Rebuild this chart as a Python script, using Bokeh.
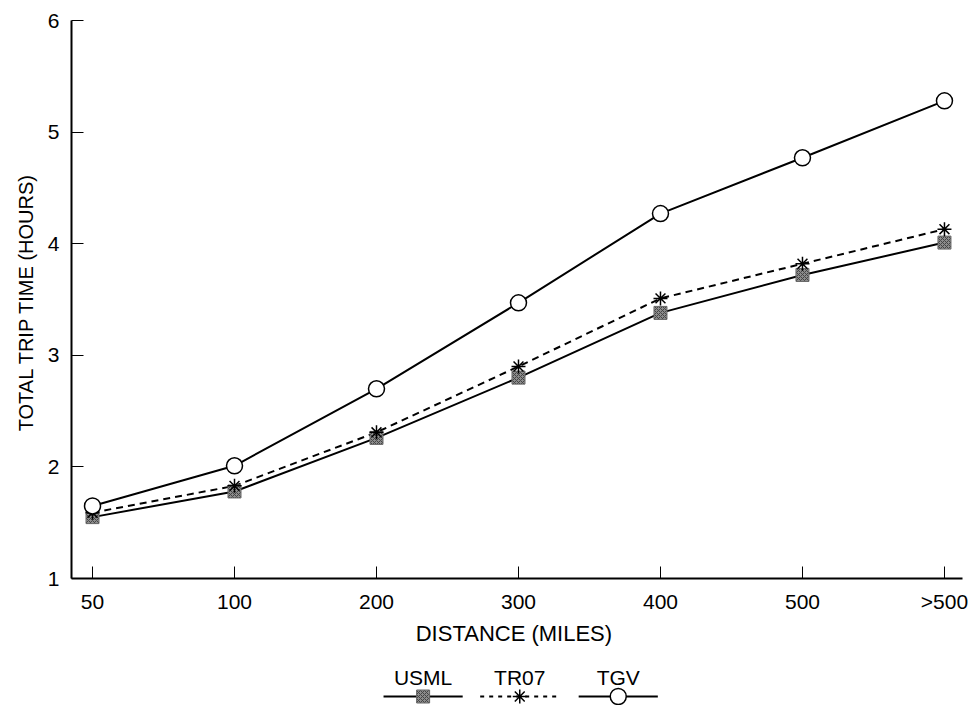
from bokeh.plotting import figure
from bokeh.models import Range1d, FixedTicker, ColumnDataSource
from bokeh.layouts import column
from bokeh.embed import file_html
from bokeh.resources import INLINE
from bokeh.core.properties import value

categories = ["50", "100", "200", "300", "400", "500", ">500"]
usml = [1.55, 1.78, 2.26, 2.80, 3.38, 3.72, 4.01]
tr07 = [1.59, 1.83, 2.31, 2.90, 3.51, 3.82, 4.13]
tgv = [1.65, 2.01, 2.70, 3.47, 4.27, 4.77, 5.28]
y_ticks = [1, 2, 3, 4, 5, 6]
series_names = ["USML", "TR07", "TGV"]

FONT = "Liberation Sans"
xs = list(range(len(categories)))

p = figure(width=968, height=650, output_backend="svg", toolbar_location=None,
           x_range=Range1d(-0.148, 6.127), y_range=Range1d(1, 6),
           min_border_left=71, min_border_right=6, min_border_top=20, min_border_bottom=72)
p.outline_line_color = None
p.xgrid.visible = False
p.ygrid.visible = False
p.background_fill_color = "white"

p.xaxis.ticker = FixedTicker(ticks=xs)
p.xaxis.major_label_overrides = {i: c for i, c in enumerate(categories)}
p.yaxis.ticker = FixedTicker(ticks=y_ticks)

for ax in (p.xaxis[0], p.yaxis[0]):
    ax.axis_line_color = "black"
    ax.axis_line_width = 2
    ax.major_tick_in = 12
    ax.major_tick_out = 0
    ax.major_tick_line_color = "black"
    ax.major_tick_line_width = 1
    ax.minor_tick_line_color = None
    ax.major_label_text_font = FONT
    ax.major_label_text_font_size = "21px"
    ax.major_label_text_color = "black"
    ax.axis_label_text_font = FONT
    ax.axis_label_text_font_style = "normal"
    ax.axis_label_text_color = "black"

p.xaxis.axis_label = "DISTANCE  (MILES)"
p.yaxis.axis_label = "TOTAL TRIP TIME  (HOURS)"
p.xaxis.axis_label_text_font_size = "22px"
p.yaxis.axis_label_text_font_size = "20px"
p.xaxis.major_label_standoff = 11
p.xaxis.axis_label_standoff = 5
p.yaxis.major_label_standoff = 12
p.yaxis.axis_label_standoff = 8

src = ColumnDataSource(dict(x=xs, usml=usml, tr07=tr07, tgv=tgv))

p.line("x", "tgv", source=src, line_color="black", line_width=2)
p.line("x", "tr07", source=src, line_color="black", line_width=2, line_dash="7 5")
p.line("x", "usml", source=src, line_color="black", line_width=2)

p.scatter("x", "usml", source=src, marker="square", size=13, fill_color="#8c8c8c",
          line_color="#666666", line_width=1, hatch_pattern="x", hatch_color="#444444",
          hatch_scale=4, hatch_weight=1)
p.scatter("x", "tr07", source=src, marker="asterisk", size=14, line_color="black", line_width=1.5)
p.scatter("x", "tgv", source=src, marker="circle", size=16, fill_color="white",
          line_color="black", line_width=1.5)

# legend panel
lg = figure(width=968, height=55, output_backend="svg", toolbar_location=None,
            x_range=Range1d(0, 968), y_range=Range1d(55, 0),
            min_border=0)
lg.axis.visible = False
lg.grid.visible = False
lg.outline_line_color = None

leg_x = [382, 487, 594]
lab_y = [27, 27, 27]
line_y = 46
half = 43
lg.text(x=leg_x, y=lab_y, text=series_names, text_font=value(FONT), text_font_size="21px",
        text_align="center", text_baseline="middle", text_color="black")
lg.segment(x0=[leg_x[0] - half], y0=[line_y], x1=[leg_x[0] + half], y1=[line_y],
           line_color="black", line_width=2)
lg.segment(x0=[leg_x[1] - half], y0=[line_y], x1=[leg_x[1] + half], y1=[line_y],
           line_color="black", line_width=2, line_dash="4 5")
lg.segment(x0=[leg_x[2] - half], y0=[line_y], x1=[leg_x[2] + half], y1=[line_y],
           line_color="black", line_width=2)
lg.scatter(x=[leg_x[0]], y=[line_y], marker="square", size=13, fill_color="#8c8c8c",
           line_color="#666666", hatch_pattern="x", hatch_color="#444444", hatch_scale=4)
lg.scatter(x=[leg_x[1]], y=[line_y], marker="asterisk", size=14, line_color="black", line_width=1.5)
lg.scatter(x=[leg_x[2]], y=[line_y], marker="circle", size=16, fill_color="white",
           line_color="black", line_width=1.5)

layout = column(p, lg, spacing=0)
open("out.html", "w").write(file_html(layout, INLINE))
